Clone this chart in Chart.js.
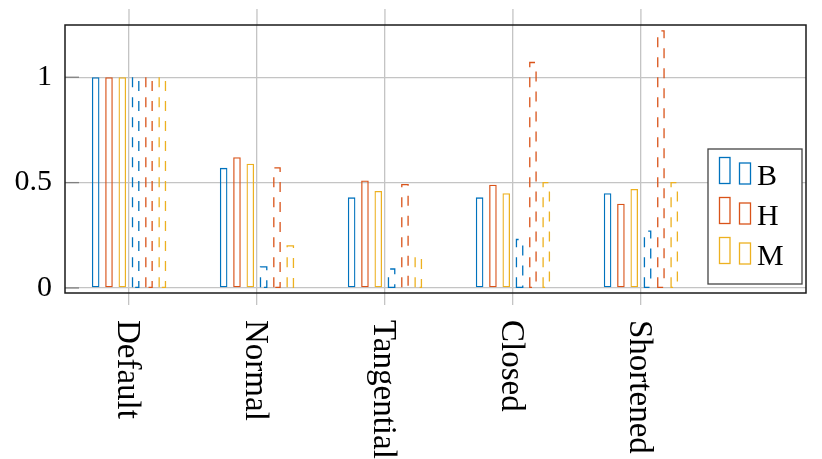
<!DOCTYPE html>
<html lang="en">
<head>
<meta charset="UTF-8">
<title>B / H / M per variant</title>
<script src="https://cdn.jsdelivr.net/npm/chart.js"></script>
<style>
    html, body { margin: 0; padding: 0; background: #fff; }
    #wrap { width: 822px; height: 459px; position: relative; }
</style>
</head>
<body>
<div id="wrap"><canvas id="chart"></canvas></div>
<script>
// data
const categories = ['Default', 'Normal', 'Tangential', 'Closed', 'Shortened'];
const seriesNames = ['B', 'H', 'M'];
const solidB  = [1.00, 0.57, 0.43, 0.43, 0.45];
const solidH  = [1.00, 0.62, 0.51, 0.49, 0.40];
const solidM  = [1.00, 0.59, 0.46, 0.45, 0.47];
const dashedB = [1.00, 0.10, 0.09, 0.23, 0.27];
const dashedH = [1.00, 0.57, 0.49, 1.07, 1.22];
const dashedM = [1.00, 0.20, 0.15, 0.50, 0.50];
const yTicks = [0, 0.5, 1];

const colors = ['#0072bd', '#d95319', '#edb120'];
const gridColor = '#c4c4c4';
const serif = '"Liberation Serif", "DejaVu Serif", serif';

function makeDataset(values, idx, dashed) {
    return {
        label: seriesNames[idx] + (dashed ? ' (dashed)' : ''),
        data: values.map((v, k) => ({ x: k, y: v })),
        borderColor: colors[idx],
        backgroundColor: 'transparent',
        borderWidth: dashed ? 0 : 1.3,
        borderSkipped: false,
        dashed: dashed
    };
}

const datasets = [
    makeDataset(solidB, 0, false),
    makeDataset(solidH, 1, false),
    makeDataset(solidM, 2, false),
    makeDataset(dashedB, 0, true),
    makeDataset(dashedH, 1, true),
    makeDataset(dashedM, 2, true)
];

// dashed outlines, axis box, rotated labels and the two-symbol legend
const decor = {
    id: 'decor',
    afterDatasetsDraw(chart) {
        const ctx = chart.ctx;
        chart.data.datasets.forEach((d, di) => {
            if (!d.dashed) return;
            const meta = chart.getDatasetMeta(di);
            ctx.save();
            ctx.strokeStyle = d.borderColor;
            ctx.lineWidth = 1.3;
            ctx.setLineDash([10, 10]);
            meta.data.forEach(bar => {
                const p = bar.getProps(['x', 'y', 'base', 'width'], true);
                const l = p.x - p.width / 2 + 0.65;
                const r = p.x + p.width / 2 - 0.65;
                ctx.beginPath();
                ctx.moveTo(l, p.base);
                ctx.lineTo(l, p.y);
                ctx.lineTo(r, p.y);
                ctx.lineTo(r, p.base);
                ctx.closePath();
                ctx.stroke();
            });
            ctx.restore();
        });
    },
    afterDraw(chart) {
        const ctx = chart.ctx;
        const a = chart.chartArea;
        const xs = chart.scales.x, ys = chart.scales.y;
        ctx.save();

        // x grid lines poke out above the box
        ctx.strokeStyle = gridColor;
        ctx.lineWidth = 1.3;
        categories.forEach((c, i) => {
            const px = xs.getPixelForValue(i);
            ctx.beginPath();
            ctx.moveTo(px, 9);
            ctx.lineTo(px, a.top);
            ctx.stroke();
        });

        // short darker y ticks inside the box
        ctx.strokeStyle = '#808080';
        yTicks.forEach(v => {
            const py = ys.getPixelForValue(v);
            ctx.beginPath();
            ctx.moveTo(a.left, py);
            ctx.lineTo(a.left + 14, py);
            ctx.stroke();
        });

        // axis box
        ctx.strokeStyle = '#1a1a1a';
        ctx.lineWidth = 1.5;
        ctx.strokeRect(a.left, a.top, a.right - a.left, a.bottom - a.top);

        // category labels, turned clockwise
        ctx.fillStyle = '#000';
        ctx.font = '33px ' + serif;
        ctx.textAlign = 'left';
        ctx.textBaseline = 'alphabetic';
        categories.forEach((c, i) => {
            const px = xs.getPixelForValue(i);
            ctx.save();
            ctx.translate(px, 320);
            ctx.rotate(Math.PI / 2);
            ctx.fillText(c, 0, 11);
            ctx.restore();
        });

        // legend
        ctx.fillStyle = '#fff';
        ctx.fillRect(708, 149, 94, 135);
        ctx.strokeStyle = '#444';
        ctx.lineWidth = 1.3;
        ctx.strokeRect(708, 149, 94, 135);
        ctx.font = '30px ' + serif;
        seriesNames.forEach((name, i) => {
            const base = 185 + 40 * i;
            ctx.strokeStyle = colors[i];
            ctx.strokeRect(719.5, base - 27.5, 10.5, 26);
            ctx.strokeRect(739.5, base - 22, 11, 21);
            ctx.fillStyle = '#000';
            ctx.fillText(name, 757, base);
        });

        ctx.restore();
    }
};

new Chart(document.getElementById('chart'), {
    type: 'bar',
    data: { datasets: datasets },
    options: {
        responsive: true,
        maintainAspectRatio: false,
        animation: false,
        categoryPercentage: 0.625,
        barPercentage: 0.57,
        layout: { padding: { top: 25, right: 16, bottom: 154, left: 0 } },
        plugins: {
            legend: { display: false },
            tooltip: { enabled: false }
        },
        scales: {
            x: {
                type: 'linear',
                min: -0.5,
                max: 5.29,
                offset: false,
                afterBuildTicks: s => { s.ticks = categories.map((c, i) => ({ value: i })); },
                afterFit: s => { s.paddingLeft = 0; s.paddingRight = 0; },
                ticks: { display: false },
                grid: { offset: false, color: gridColor, lineWidth: 1.3, drawTicks: true, tickLength: 12 },
                border: { display: false }
            },
            y: {
                min: -0.024,
                max: 1.248,
                afterBuildTicks: s => { s.ticks = yTicks.map(v => ({ value: v })); },
                afterFit: s => { s.width = 65; s.paddingTop = 0; s.paddingBottom = 0; },
                ticks: {
                    color: '#000',
                    padding: 13,
                    font: { family: serif, size: 30 },
                    callback: v => String(v)
                },
                grid: { color: gridColor, lineWidth: 1.3, drawTicks: false },
                border: { display: false }
            }
        }
    },
    plugins: [decor]
});
</script>
</body>
</html>
